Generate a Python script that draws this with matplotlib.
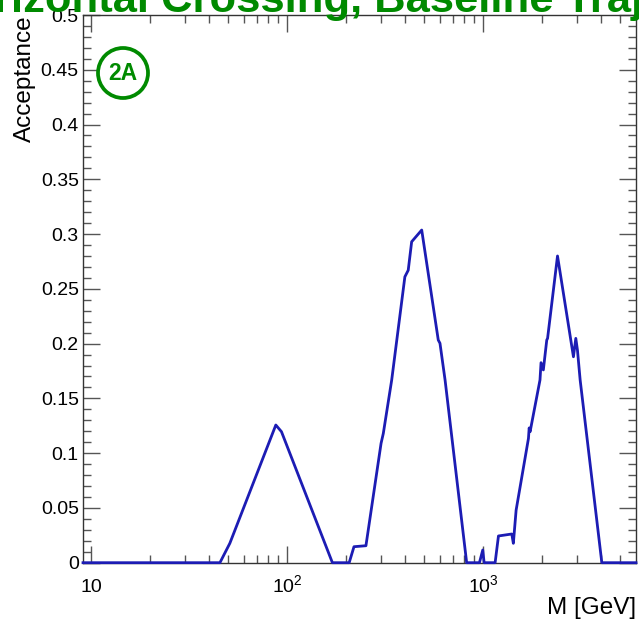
import matplotlib
matplotlib.use("Agg")
import matplotlib.pyplot as plt
from matplotlib.patches import Circle
from matplotlib.ticker import FixedLocator, NullFormatter, MultipleLocator

plt.rcParams['font.family'] = ['Liberation Sans', 'DejaVu Sans']
plt.rcParams['mathtext.fontset'] = 'custom'
plt.rcParams['mathtext.rm'] = 'Liberation Sans'
plt.rcParams['mathtext.it'] = 'Liberation Sans:italic'
plt.rcParams['mathtext.bf'] = 'Liberation Sans:bold'

# ---- data ----
mass_gev = [9.1, 45.4, 51, 87.5, 93.5, 170, 207, 219, 252, 301, 309, 341, 398, 414,
            431, 485, 589, 601, 638, 822, 955, 993, 1009, 1148, 1194, 1396, 1422,
            1469, 1698, 1712, 1731, 1944, 1968, 2022, 2105, 2125, 2388, 2879, 2960,
            3018, 3115, 4017, 6000]
acceptance = [0.0, 0.0, 0.0177, 0.1257, 0.1196, 0.0, 0.0, 0.0146, 0.0155, 0.109,
              0.118, 0.1668, 0.261, 0.267, 0.293, 0.3037, 0.2033, 0.2003, 0.1668,
              0.0, 0.0, 0.0116, 0.0, 0.0, 0.0244, 0.0262, 0.0177, 0.048, 0.1135,
              0.123, 0.1196, 0.1668, 0.1826, 0.176, 0.2033, 0.2048, 0.280, 0.188,
              0.2048, 0.194, 0.1668, 0.0, 0.0]

x_major = [10, 100, 1000]
x_labels = ['10', r'$\mathregular{10^{2}}$', r'$\mathregular{10^{3}}$']
x_minor = [20, 30, 40, 50, 60, 70, 80, 90, 200, 300, 400, 500, 600, 700, 800, 900,
           2000, 3000, 4000, 5000]
y_ticks = [0, 0.05, 0.1, 0.15, 0.2, 0.25, 0.3, 0.35, 0.4, 0.45, 0.5]
y_labels = ['0', '0.05', '0.1', '0.15', '0.2', '0.25', '0.3', '0.35', '0.4', '0.45', '0.5']

title = 'Horizontal Crossing, Baseline Trajectory'
green = '#008a00'
blue = '#1c1cb4'

W, H = 639, 620
fig = plt.figure(figsize=(W / 100, H / 100), dpi=100)
L, R, T, B = 83, 636, 15, 562.7
ax = fig.add_axes([L / W, 1 - B / H, (R - L) / W, (B - T) / H])

ax.plot(mass_gev, acceptance, color=blue, lw=2.0, clip_on=False, zorder=5)
ax.set_xscale('log')
ax.set_xlim(9.1, 6000)
ax.set_ylim(0, 0.5)

ax.xaxis.set_major_locator(FixedLocator(x_major))
ax.set_xticks(x_major, x_labels, va='baseline')
ax.xaxis.set_minor_locator(FixedLocator(x_minor))
ax.xaxis.set_minor_formatter(NullFormatter())
ax.set_yticks(y_ticks, y_labels)
ax.yaxis.set_minor_locator(MultipleLocator(0.01))

ax.tick_params(which='both', direction='in', top=True, right=True,
               color='#555555', width=1.0, labelsize=14, labelcolor='black')
ax.tick_params(which='major', length=12)
ax.tick_params(which='minor', length=6)
ax.tick_params(axis='y', pad=3)
ax.tick_params(axis='x', pad=21)
for s in ax.spines.values():
    s.set_color('#333333')
    s.set_linewidth(1.0)

ax.set_xlabel('M [GeV]', fontsize=17.5, loc='right')
ax.xaxis.set_label_coords(1.0, -(614 - B) / (B - T))
ax.xaxis.label.set_va('baseline')
ax.set_ylabel('Acceptance', fontsize=17.5, loc='top')
ax.yaxis.set_label_coords(-(L - 36) / (R - L), 1.0)

fig.text(((L + R) / 2 - 4) / W, 1 - 12 / H, title, ha='center', va='baseline',
         fontsize=31.3, fontweight='bold', color=green)

circ = Circle((123 / 100, (H - 73) / 100), 0.25, transform=fig.dpi_scale_trans,
              facecolor='white', edgecolor=green, lw=2.7, zorder=10)
fig.patches.append(circ)
fig.text(123 / W, 1 - 73 / H, '2A', ha='center', va='center', fontsize=16.5,
         fontweight='bold', color=green, zorder=11)

fig.savefig('out.png', dpi=100)
